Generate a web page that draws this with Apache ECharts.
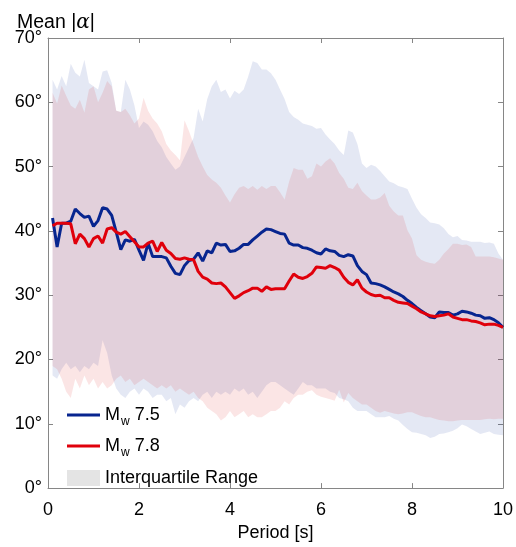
<!DOCTYPE html>
<html>
<head>
<meta charset="utf-8">
<script src="https://cdn.jsdelivr.net/npm/echarts@6/dist/echarts.min.js"></script>
<style>
  html, body { margin: 0; padding: 0; background: #fff; }
  #chart { width: 516px; height: 547px; }
</style>
</head>
<body>
<div id="chart"></div>
<script>
// period [s]
var period = [
  0.1, 0.2, 0.3, 0.4, 0.5, 0.6, 0.7, 0.8, 0.9, 1.0,
  1.1, 1.2, 1.3, 1.4, 1.5, 1.6, 1.7, 1.8, 1.9, 2.0,
  2.1, 2.2, 2.3, 2.4, 2.5, 2.6, 2.7, 2.8, 2.9, 3.0,
  3.1, 3.2, 3.3, 3.4, 3.5, 3.6, 3.7, 3.8, 3.9, 4.0,
  4.1, 4.2, 4.3, 4.4, 4.5, 4.6, 4.7, 4.8, 4.9, 5.0,
  5.1, 5.2, 5.3, 5.4, 5.5, 5.6, 5.7, 5.8, 5.9, 6.0,
  6.1, 6.2, 6.3, 6.4, 6.5, 6.6, 6.7, 6.8, 6.9, 7.0,
  7.1, 7.2, 7.3, 7.4, 7.5, 7.6, 7.7, 7.8, 7.9, 8.0,
  8.1, 8.2, 8.3, 8.4, 8.5, 8.6, 8.7, 8.8, 8.9, 9.0,
  9.1, 9.2, 9.3, 9.4, 9.5, 9.6, 9.7, 9.8, 9.9, 10.0
];

// mean |alpha|, Mw 7.5
var mean75 = [
  42.0, 37.5, 41.2, 41.2, 41.5, 43.4, 42.7, 42.1, 42.3, 40.7,
  41.6, 43.6, 43.4, 42.4, 39.8, 37.1, 38.6, 38.4, 38.7, 37.0,
  35.4, 38.1, 36.0, 36.0, 36.0, 35.8, 34.5, 33.4, 33.2, 34.6,
  35.4, 35.6, 36.6, 35.3, 36.9, 36.6, 38.1, 37.8, 37.9, 36.8,
  36.9, 37.3, 37.9, 37.9, 38.6, 39.2, 39.8, 40.3, 40.2, 39.9,
  39.6, 39.5, 38.1, 37.8, 37.8, 37.4, 37.3, 37.0, 36.6, 36.4,
  37.2, 36.9, 36.8, 36.2, 36.0, 36.3, 36.1, 34.6, 33.7, 33.2,
  31.9, 31.8, 31.6, 31.3, 30.9, 30.5, 30.2, 29.8, 29.2, 28.7,
  28.1, 27.6, 27.1, 26.6, 26.5, 27.4, 27.3, 27.3, 26.9, 27.1,
  27.5, 27.4, 27.2, 26.9, 26.8, 26.4, 26.5, 26.2, 25.7, 25.0
];

// mean |alpha|, Mw 7.8
var mean78 = [
  40.8, 41.2, 41.2, 41.2, 41.1, 38.0, 39.5, 38.8, 37.5, 38.8,
  39.2, 38.1, 40.3, 40.5, 39.8, 39.5, 39.9, 39.1, 38.3, 37.5,
  37.5, 38.1, 38.4, 36.8, 38.2, 37.0, 36.5, 35.7, 35.6, 35.8,
  35.6, 35.5, 33.7, 32.8, 32.5, 31.9, 31.8, 31.9, 31.3, 30.4,
  29.5, 29.9, 30.4, 30.7, 31.1, 31.1, 30.6, 31.3, 30.9, 31.0,
  31.0, 31.0, 32.2, 33.3, 32.8, 32.6, 32.9, 33.4, 34.4, 34.3,
  34.2, 34.6, 34.3, 33.9, 32.8, 32.0, 31.6, 32.4, 31.1, 30.5,
  30.1, 29.9, 30.0, 29.6, 29.6, 29.2, 28.9, 28.8, 28.7, 28.3,
  27.9, 27.4, 27.1, 26.8, 26.7, 26.8, 26.9, 27.1, 26.6, 26.4,
  26.2, 26.2, 26.0, 25.9, 25.7, 25.4, 25.5, 25.5, 25.3, 25.0
];

// interquartile range, Mw 7.5
var q3_75 = [
  63.5, 62.0, 64.1, 62.5, 66.0, 64.6, 64.0, 66.6, 63.0, 62.5,
  62.0, 64.8, 65.0, 63.0, 58.7, 58.5, 63.5, 62.0, 59.5, 56.0,
  57.0, 56.5, 55.5, 54.0, 53.0, 51.5, 50.5, 49.5, 50.0, 51.5,
  53.0, 54.5, 59.0, 57.0, 60.5, 62.5, 63.5, 61.6, 62.0, 60.6,
  61.8, 61.3, 62.0, 64.0, 66.4, 66.1, 65.1, 65.1, 64.5, 63.5,
  62.0, 60.5, 58.5, 57.7, 57.3, 56.7, 56.5, 56.3, 55.9, 56.0,
  55.0, 54.2, 53.5, 52.5, 51.8, 55.6, 55.3, 53.5, 50.5, 49.8,
  50.3, 50.0, 49.3, 48.5, 47.7, 47.4, 47.0, 46.8, 46.5, 45.0,
  43.6, 42.6, 42.0, 41.3, 41.2, 41.0, 40.4, 39.5, 39.0, 39.2,
  38.6, 38.5, 38.3, 38.3, 38.3, 38.1, 38.2, 38.0, 36.5, 35.5
];
var q1_75 = [
  17.5, 17.0, 18.5, 19.5, 18.5, 19.0, 18.0, 19.0, 18.5, 19.5,
  19.0, 23.0, 21.0, 17.5, 15.5, 14.5, 14.0, 15.0, 15.5, 14.5,
  15.5, 15.0, 14.0, 14.5, 14.5, 13.5, 14.0, 11.5, 13.0, 12.5,
  13.5, 14.0, 13.5, 14.5, 15.0, 14.0, 15.0, 14.5, 15.0, 14.5,
  15.5, 15.0, 15.5, 14.5, 15.0, 14.0, 15.0, 16.0, 16.5, 16.5,
  16.0, 15.5, 15.0, 14.5, 15.5, 16.5, 16.0, 16.0, 15.5, 15.5,
  15.5, 15.0, 14.8, 14.0, 13.8, 13.5, 12.5, 12.0, 12.0, 12.0,
  11.5, 11.0, 11.0, 11.0, 11.2, 10.8, 10.5, 9.8, 9.2, 8.7,
  8.6, 8.4, 8.2, 7.8, 8.0, 8.4, 8.5, 8.7, 8.9, 9.3,
  9.9, 9.6, 9.2, 8.8, 8.4, 8.6, 8.8, 8.4, 8.3, 8.2
];

// interquartile range, Mw 7.8
var q3_78 = [
  61.5, 59.8, 62.6, 61.0, 59.5, 59.0, 60.4, 58.4, 62.0, 62.5,
  60.0, 61.5, 63.3, 62.5, 58.7, 58.5, 59.0, 58.0, 56.7, 57.5,
  60.7, 58.7, 57.5, 56.7, 55.5, 53.5, 52.5, 51.8, 51.0, 57.2,
  55.5, 53.5, 51.5, 50.0, 48.7, 48.0, 47.5, 46.7, 45.5, 44.4,
  45.7, 46.7, 47.0, 46.5, 47.0, 46.4, 47.0, 46.5, 47.0, 47.0,
  46.0, 44.9, 47.7, 49.8, 49.5, 49.5, 48.1, 48.5, 50.5, 50.0,
  50.8, 51.3, 50.5, 49.0, 48.1, 46.7, 46.5, 47.5, 46.2, 45.5,
  44.9, 44.9, 45.2, 45.9, 43.9, 43.0, 42.4, 42.4, 40.1, 38.8,
  36.2, 35.5, 35.2, 35.0, 34.9, 35.5, 36.5, 37.2, 38.0, 38.0,
  37.8, 37.9, 37.5, 36.0, 36.0, 36.0, 36.0, 35.9, 35.7, 35.5
];
var q1_78 = [
  19.0, 18.5, 17.0, 15.0, 14.0, 17.0, 15.5, 17.5, 16.0, 17.0,
  15.5, 16.5, 15.5, 16.0, 17.0, 17.5, 16.5, 17.0, 16.0, 16.5,
  17.0, 16.5, 16.0, 15.5, 16.0, 15.5, 16.0, 15.0, 15.5, 15.0,
  14.5, 15.0, 14.0, 13.5, 12.5, 12.0, 11.5, 10.5, 11.0, 12.0,
  11.0, 11.5, 12.0, 11.0, 11.5, 11.0, 11.0, 11.5, 12.0, 12.0,
  12.5, 13.5, 13.0, 14.0, 14.5, 14.5, 15.0, 15.2, 14.5, 14.2,
  14.0, 13.8, 13.6, 15.3, 13.3, 14.8, 14.0, 13.5, 13.0, 13.0,
  12.5, 12.0, 11.7, 12.0, 11.8, 11.6, 11.5, 11.6, 11.8, 11.8,
  11.5, 11.2, 11.0, 11.0, 10.8, 10.6, 10.5, 10.4, 10.4, 10.5,
  10.6, 10.6, 10.6, 10.6, 10.6, 10.7, 10.8, 10.7, 10.8, 10.8
];

var xTicks = [0, 2, 4, 6, 8, 10];
var yTicks = [0, 10, 20, 30, 40, 50, 60, 70];

var FONT = 'Liberation Sans, Arial, Helvetica, sans-serif';
var BLUE = '#07258f';
var RED = '#e0000b';
var AXIS = '#868686';

function pairs(arr) {
  return period.map(function (p, i) { return [p, arr[i]]; });
}

// filled polygon between lower and upper quartile, placed via the axes
function band(lo, hi, color) {
  return {
    type: 'custom',
    silent: true,
    z: 1,
    data: [[5, 35]],
    renderItem: function (params, api) {
      var pts = [];
      for (var i = 0; i < period.length; i++) pts.push(api.coord([period[i], hi[i]]));
      for (var j = period.length - 1; j >= 0; j--) pts.push(api.coord([period[j], lo[j]]));
      return { type: 'polygon', shape: { points: pts }, style: { fill: color } };
    }
  };
}

var legendCommon = {
  orient: 'vertical',
  left: 62,
  itemWidth: 33,
  selectedMode: false,
  formatter: function (name) {
    if (name === 'Mw 7.5') return '{m|M}{s|w}{m| 7.5}';
    if (name === 'Mw 7.8') return '{m|M}{s|w}{m| 7.8}';
    return '{m|' + name + '}';
  },
  textStyle: {
    color: '#000',
    fontFamily: FONT,
    fontSize: 18,
    rich: {
      m: { fontSize: 18, fontFamily: FONT, color: '#000' },
      s: { fontSize: 12, fontFamily: FONT, color: '#000', padding: [14, 0, 0, 1] }
    }
  }
};

var axisLine = { show: true, onZero: false, lineStyle: { color: AXIS, width: 1 } };
var axisTick = { show: true, inside: true, length: 5, lineStyle: { color: AXIS } };

var chart = echarts.init(document.getElementById('chart'));
var option = {
  animation: false,
  backgroundColor: '#fff',
  title: {
    text: '{a|Mean |}{b|α}{a||}',
    left: 12,
    top: 8,
    textStyle: {
      rich: {
        a: { fontSize: 19.5, fontWeight: 'normal', fontFamily: FONT, color: '#000' },
        b: { fontSize: 20, fontWeight: 'normal', fontFamily: 'DejaVu Serif, Liberation Serif, serif', fontStyle: 'italic', color: '#000' }
      }
    }
  },
  legend: [
    Object.assign({}, legendCommon, { top: 401, itemHeight: 3, data: [{ name: 'Mw 7.5', icon: 'rect' }] }),
    Object.assign({}, legendCommon, { top: 432, itemHeight: 3, data: [{ name: 'Mw 7.8', icon: 'rect' }] }),
    Object.assign({}, legendCommon, { top: 464, itemHeight: 16, data: [{ name: 'Interquartile Range', icon: 'rect' }] })
  ],
  grid: { left: 48, right: 10, top: 38, bottom: 52, containLabel: false },
  xAxis: [
    {
      type: 'value', min: 0, max: 10, interval: 2,
      name: 'Period [s]', nameLocation: 'middle', nameGap: 32,
      nameTextStyle: { fontSize: 18, fontFamily: FONT, color: '#000' },
      axisLine: axisLine, axisTick: axisTick,
      axisLabel: {
        margin: 13, fontSize: 18, fontFamily: FONT, color: '#000',
        formatter: function (v) { return xTicks.indexOf(v) >= 0 ? String(v) : ''; }
      },
      splitLine: { show: false }
    },
    {
      type: 'value', min: 0, max: 10, interval: 2, position: 'top',
      axisLine: axisLine, axisTick: axisTick,
      axisLabel: { show: false },
      splitLine: { show: false }
    }
  ],
  yAxis: [
    {
      type: 'value', min: 0, max: 70, interval: 10,
      axisLine: axisLine, axisTick: axisTick,
      axisLabel: {
        margin: 6, fontSize: 18, fontFamily: FONT, color: '#000',
        formatter: function (v) { return yTicks.indexOf(v) >= 0 ? v + '°' : ''; }
      },
      splitLine: { show: false }
    },
    {
      type: 'value', min: 0, max: 70, interval: 10, position: 'right',
      axisLine: axisLine, axisTick: axisTick,
      axisLabel: { show: false },
      splitLine: { show: false }
    }
  ],
  series: [
    band(q1_75, q3_75, 'rgba(0,35,150,0.105)'),
    band(q1_78, q3_78, 'rgba(215,0,0,0.10)'),
    {
      name: 'Interquartile Range', type: 'line', data: [], symbol: 'none',
      itemStyle: { color: '#e4e4e4' }, lineStyle: { color: '#e4e4e4' }
    },
    {
      name: 'Mw 7.5', type: 'line', data: pairs(mean75), symbol: 'none', z: 3,
      itemStyle: { color: BLUE }, lineStyle: { color: BLUE, width: 3 }
    },
    {
      name: 'Mw 7.8', type: 'line', data: pairs(mean78), symbol: 'none', z: 4,
      itemStyle: { color: RED }, lineStyle: { color: RED, width: 3 }
    }
  ]
};
chart.setOption(option);
</script>
</body>
</html>
